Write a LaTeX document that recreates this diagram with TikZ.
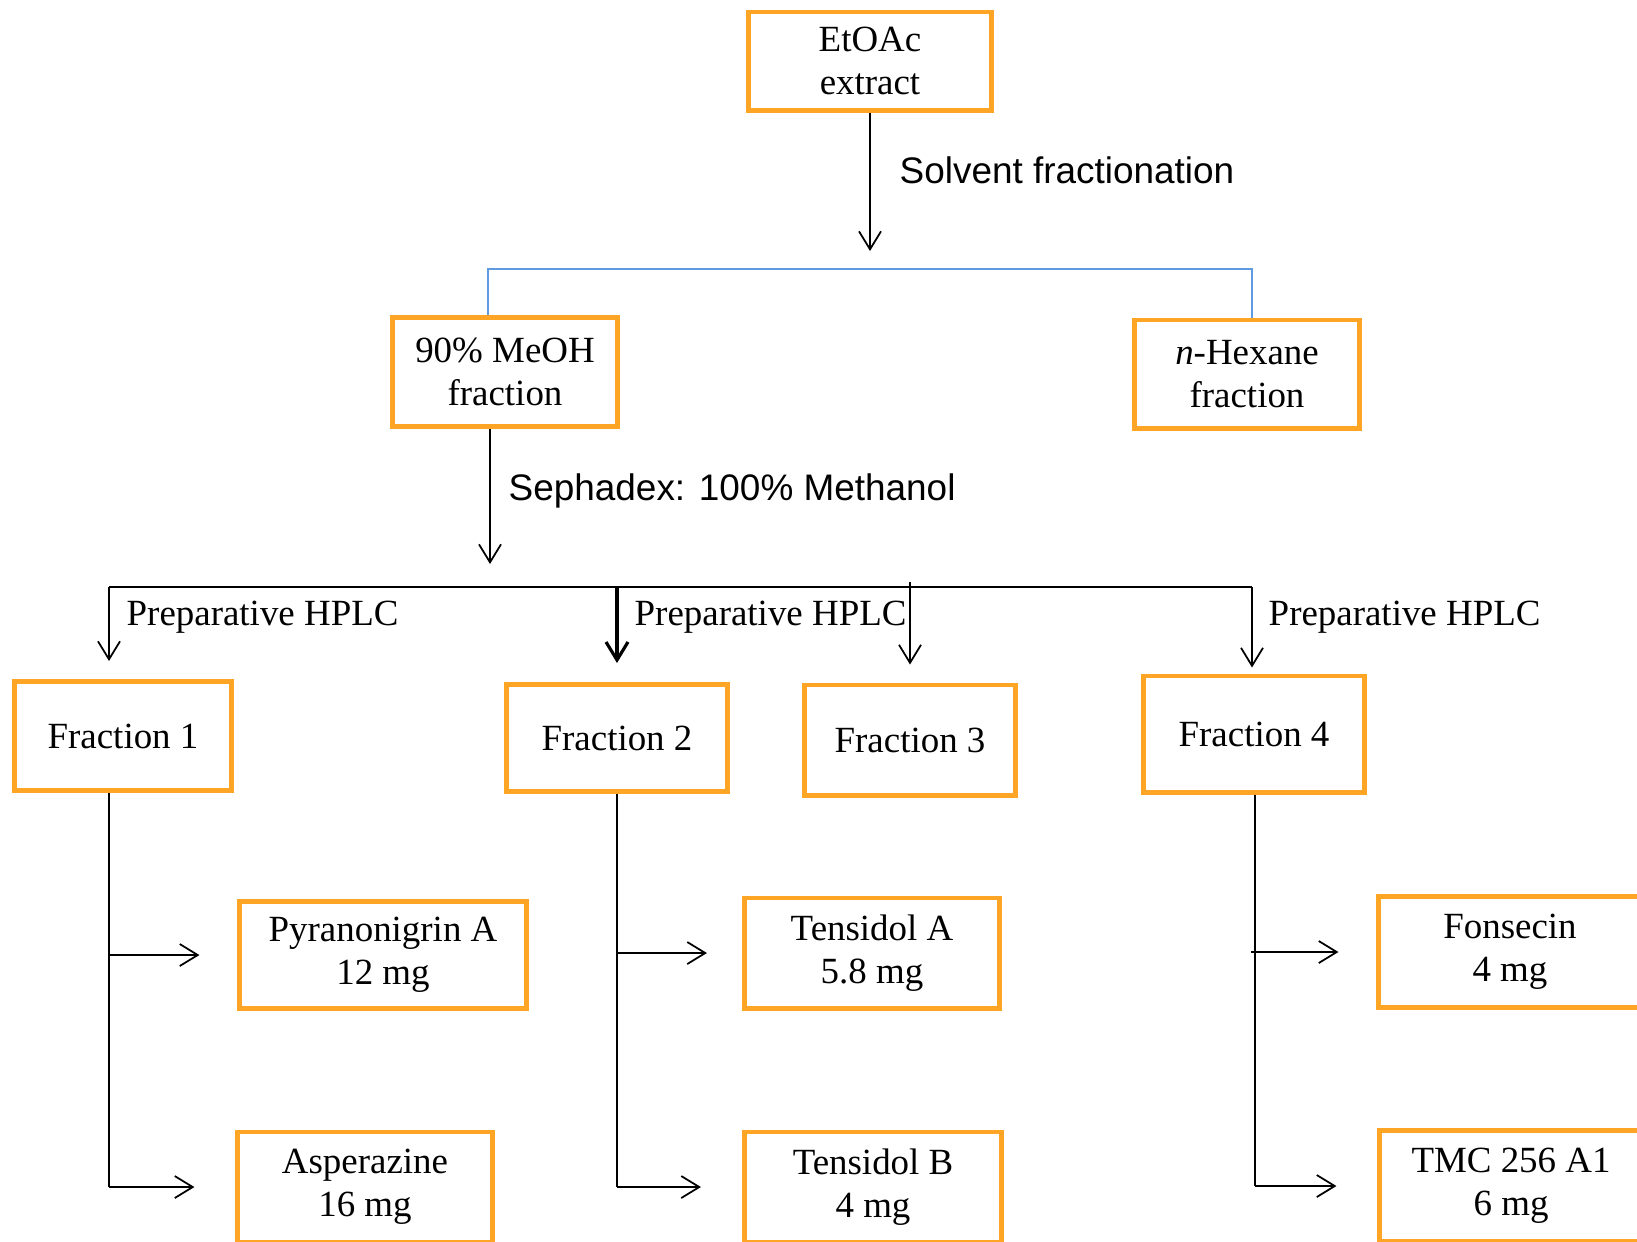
\documentclass[tikz,border=0pt]{standalone}
\usepackage{fontspec}
\setmainfont{Liberation Serif}
\setsansfont{Liberation Sans}
\usepackage{tikz}
\usetikzlibrary{arrows.meta,positioning,calc}
\definecolor{boxorange}{RGB}{255,165,38}
\definecolor{splitblue}{RGB}{95,155,225}
\tikzset{
    box/.style={draw=boxorange, line width=1.4pt, align=center, inner sep=0pt, font=\fontsize{10.5}{12.2}\selectfont},
    arr/.style={-{Straight Barb[length=1.8mm,width=2.2mm]}, line width=0.5pt},
    lbl/.style={anchor=west, inner sep=0pt, font=\fontsize{10.5}{12.2}\selectfont},
    slbl/.style={anchor=west, inner sep=0pt, font=\sffamily\fontsize{10.5}{12.2}\selectfont}
}

\begin{document}
\begin{tikzpicture}[x=0.01cm, y=-0.01cm]
    \useasboundingbox (0,0) rectangle (1637,1241);
    \clip (0,0) rectangle (1637,1241);

    \node[box, minimum width=2.43cm, minimum height=0.98cm] (extract) at (870,61) {EtOAc\\extract};
    \node[box, minimum width=2.24cm, minimum height=1.09cm] (meoh) at (505,372) {90\% MeOH\\fraction};
    \node[box, minimum width=2.24cm, minimum height=1.08cm] (hexane) at (1247,374) {\textit{n}-Hexane\\fraction};

    \node[box, minimum width=2.16cm, minimum height=1.09cm] (frac1) at (123,736) {Fraction 1};
    \node[box, minimum width=2.20cm, minimum height=1.07cm] (frac2) at (617,738) {Fraction 2};
    \node[box, minimum width=2.11cm, minimum height=1.10cm] (frac3) at (910,740) {Fraction 3};
    \node[box, minimum width=2.20cm, minimum height=1.16cm] (frac4) at (1254,734) {Fraction 4};

    \node[box, minimum width=2.86cm, minimum height=1.07cm] (pyran) at (383,955) {Pyranonigrin A\\12 mg};
    \node[box, minimum width=2.54cm, minimum height=1.10cm] (asper) at (365,1187) {Asperazine\\16 mg};
    \node[box, minimum width=2.55cm, minimum height=1.10cm] (tensA) at (872,953) {Tensidol A\\5.8 mg};
    \node[box, minimum width=2.57cm, minimum height=1.10cm] (tensB) at (873,1187) {Tensidol B\\4 mg};
    \node[box, minimum width=2.62cm, minimum height=1.11cm] (fons) at (1510,952) {Fonsecin\\4 mg};
    \node[box, minimum width=2.62cm, minimum height=1.11cm] (tmc) at (1511,1186) {TMC 256 A1\\6 mg};

    \coordinate (solv) at (870,251);
    \draw[arr] (extract) -- (solv);
    \node[slbl] (solvlbl) at (899,170) {Solvent fractionation};

    \coordinate (bl) at (488,269);
    \coordinate (br) at (1252,269);
    \draw[splitblue, line width=0.5pt] (bl |- meoh.north) -- (bl) -- (br) -- (br |- hexane.north);

    \coordinate (sep) at (490,564);
    \draw[arr] (sep |- meoh.south) -- (sep);
    \node[slbl] (seplbl) at (508,491) {Sephadex: 100\% Methanol};

    \coordinate (hl) at (109,587);
    \coordinate (hr) at (1252,587);
    \draw[line width=0.5pt] (hl) -- (hr);
    \draw[arr, shorten >=1.8mm] (hl) -- (hl |- frac1.north);
    \draw[arr, line width=0.9pt, shorten >=1.9mm] (frac2.north |- hl) -- (frac2.north);
    \draw[arr, shorten >=1.8mm] ([yshift=0.5mm]frac3.north |- hl) -- (frac3.north);
    \draw[arr, shorten >=0.6mm] (hr) -- (hr |- frac4.north);
    \node[lbl] (hplc1) at (126,617) {Preparative HPLC};
    \node[lbl] (hplc2) at (634,617) {Preparative HPLC};
    \node[lbl] (hplc4) at (1268,617) {Preparative HPLC};

    \coordinate (t1) at (109,1187);
    \draw[line width=0.5pt] (t1 |- frac1.south) -- (t1);
    \draw[arr] (t1 |- pyran) -- ([xshift=-3.8mm]pyran.west);
    \draw[arr] (t1) -- ([xshift=-4.1mm]asper.west);

    \coordinate (t2) at (617,1187);
    \draw[line width=0.5pt] (frac2.south) -- (t2);
    \draw[arr] (t2 |- tensA) -- ([xshift=-3.5mm]tensA.west);
    \draw[arr] (t2) -- ([xshift=-4.1mm]tensB.west);

    \coordinate (t4) at (1255,1186);
    \draw[line width=0.5pt] (t4 |- frac4.south) -- (t4);
    \draw[arr] ([xshift=-0.4mm]t4 |- fons) -- ([xshift=-3.8mm]fons.west);
    \draw[arr] (t4) -- ([xshift=-4.1mm]tmc.west);
\end{tikzpicture}
\end{document}
